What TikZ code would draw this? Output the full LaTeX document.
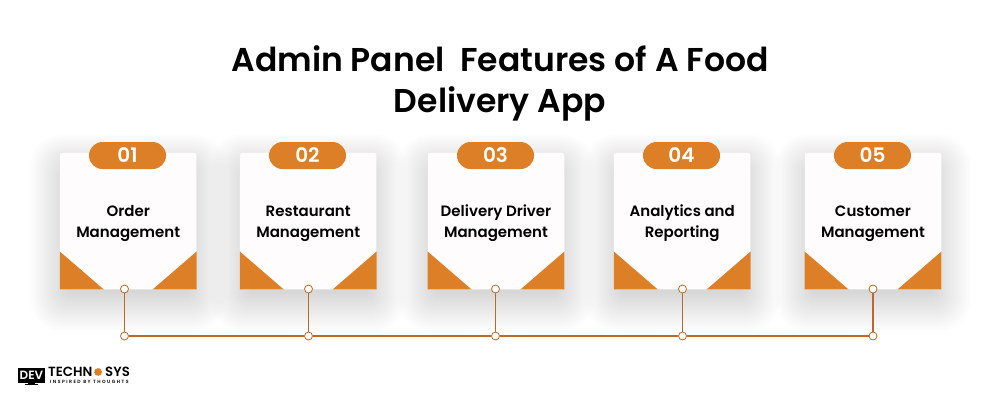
\documentclass[tikz,border=0pt]{standalone}
\usepackage{fontspec}
\setmainfont{Poppins}[BoldFont=Poppins SemiBold]
\newfontfamily\labelfont{Poppins SemiBold}
\newfontfamily\tagfont{Poppins SemiBold}[LetterSpace=32]
\usetikzlibrary{calc}
\definecolor{orng}{HTML}{DC7F26}
\definecolor{wire}{HTML}{B9692A}
\definecolor{cardbg}{HTML}{FEFCFC}
\tikzset{
  card/.style={minimum width=136.5pt, minimum height=136.5pt, inner sep=0pt, fill=cardbg, rounded corners=2.5pt},
  pill/.style={fill=orng, text=white, font=\bfseries\fontsize{20}{20}\selectfont, minimum width=77pt, minimum height=27pt, inner sep=0pt, rounded corners=13.5pt},
  lab/.style={text=black, font=\labelfont\fontsize{15}{21}\selectfont, align=center},
  dot/.style={circle, draw=wire, fill=white, line width=0.8pt, minimum size=8pt, inner sep=0pt},
  wirel/.style={draw=wire, line width=1.1pt},
  ttl/.style={text=black, font=\bfseries\fontsize{33}{41.5}\selectfont, align=center},
  logotxt/.style={anchor=west, font=\bfseries\fontsize{13.3}{13.3}\selectfont, inner sep=0pt},
}
\begin{document}
\begin{tikzpicture}[x=1pt,y=-1pt]
  \useasboundingbox (0,0) rectangle (1000,400);
  \fill[white] (0,0) rectangle (1000,400);
  \node[ttl] (title) at (500,83.5) {Admin Panel\ \ Features of A Food\\Delivery App};
  % card centre, pill centre, dot x, number, label
  \foreach \cx/\px/\dx/\num/\txt/\nm in {
    128.2/127.5/124.5/01/{Order\strut\\Management\strut}/a,
    308.2/307.5/308.5/02/{Restaurant\strut\\Management\strut}/b,
    496/495.5/495.5/03/{Delivery Driver\strut\\Management\strut}/c,
    682.2/681.5/682.5/04/{Analytics and\strut\\Reporting\strut}/d,
    873/872.5/873/05/{Customer\strut\\Management\strut}/e}{
    % soft shadow
    \foreach \g in {0,...,19}
      \fill[black, opacity=0.0075, rounded corners=32pt-1.5pt*\g]
        (\cx-68-30+2*\g,152+12-30+2*\g) rectangle (\cx+68+30-2*\g,289+12+30-2*\g);
    \node[card] (card\nm) at (\cx,221) {};
    \fill[orng] (card\nm.south west) -- ++(0,-38) -- ++(44,38) -- cycle;
    \fill[orng] (card\nm.south east) -- ++(0,-38) -- ++(-44,38) -- cycle;
    \node[pill] (pill\nm) at (\px,155.5) {\num};
    \node[lab] (lab\nm) at (\cx,223) {\txt};
    \node[dot] (top\nm) at (\dx,289) {};
    \node[dot] (bot\nm) at (\dx,336) {};
    \draw[wirel] (top\nm) -- (bot\nm);
  }
  \draw[wirel] (bota) -- (botb);
  \draw[wirel] (botb) -- (botc);
  \draw[wirel] (botc) -- (botd);
  \draw[wirel] (botd) -- (bote);
  % logo
  \node[fill=black, text=white, font=\bfseries\fontsize{12}{12}\selectfont, minimum width=27pt, minimum height=15pt, inner sep=0pt] (devbox) at (31.5,375) {DEV};
  \fill[black] (28,382) rectangle (35,384);
  \fill[black] (25,384) rectangle (38,385.2);
  \node[logotxt] (logot) at (48,372) {TECHN};
  \node[circle, fill=orng, draw=orng, dash pattern=on 1pt off 0.8pt, line width=1pt, minimum size=7pt, inner sep=0pt] (logog) at (98,372) {};
  \node[logotxt] (logos) at (105,372) {SYS};
  \node[anchor=west, font=\tagfont\fontsize{4.6}{4.6}\selectfont, inner sep=0pt] (logoi) at (50,381.5) {INSPIRED BY THOUGHTS};
\end{tikzpicture}
\end{document}
